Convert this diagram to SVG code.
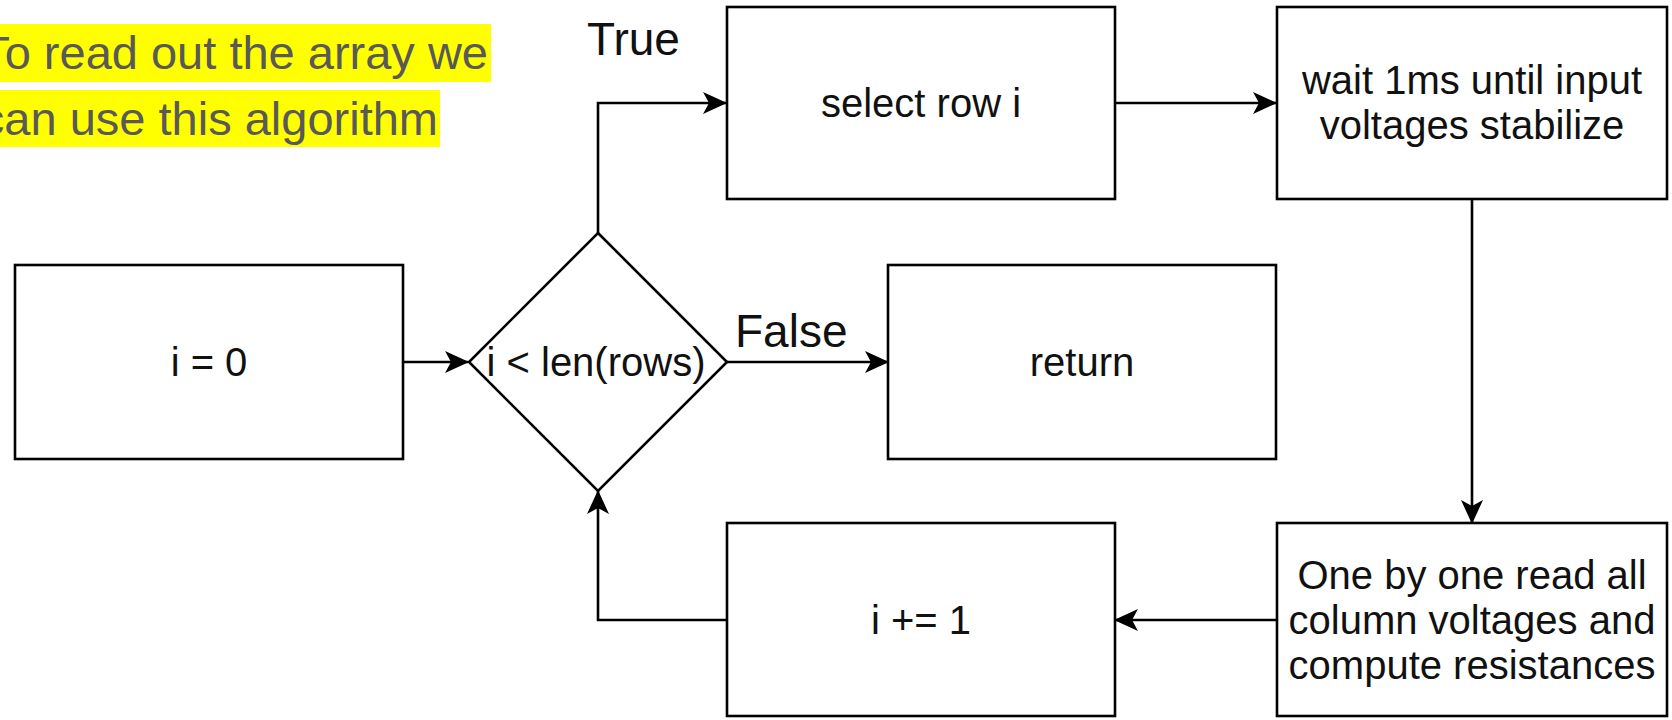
<svg xmlns="http://www.w3.org/2000/svg" width="1672" height="720" viewBox="0 0 1672 720">
<style>
.box{fill:#ffffff;stroke:#000000;stroke-width:2.6}
.conn{fill:none;stroke:#000000;stroke-width:2.6}
.t{font-family:"Liberation Sans",Arial,Helvetica,sans-serif;font-size:40px;fill:#111111;text-anchor:middle}
.lbl{font-family:"Liberation Sans",Arial,Helvetica,sans-serif;font-size:46px;fill:#111111}
.note{font-family:"Liberation Sans",Arial,Helvetica,sans-serif;font-size:47px;fill:#595959;text-anchor:end}
</style>
<defs>
<marker id="arr" viewBox="0 0 24 22" refX="23" refY="11" markerWidth="24" markerHeight="22" markerUnits="userSpaceOnUse" orient="auto">
<path d="M0,0 L24,11 L0,22 L6,11 Z" fill="#000000"/>
</marker>
</defs>
<rect width="1672" height="720" fill="#ffffff"/>
<g id="note">
<rect x="0" y="24" width="491" height="58" fill="#ffff00"/>
<rect x="0" y="90" width="440" height="57" fill="#ffff00"/>
<text class="note" x="488" y="69">To read out the array we</text>
<text class="note" x="438" y="135">can use this algorithm</text>
</g>
<g id="connectors">
<path class="conn" d="M403,362 H468" marker-end="url(#arr)"/>
<path class="conn" d="M598,233 V103 H726" marker-end="url(#arr)"/>
<path class="conn" d="M1115,103 H1276" marker-end="url(#arr)"/>
<path class="conn" d="M1472,199 V523" marker-end="url(#arr)"/>
<path class="conn" d="M1276,620 H1115" marker-end="url(#arr)"/>
<path class="conn" d="M726,620 H598 V491" marker-end="url(#arr)"/>
<path class="conn" d="M726,362 H888" marker-end="url(#arr)"/>
<text class="lbl" x="587" y="55">True</text>
<text class="lbl" x="735" y="347">False</text>
</g>
<g id="n_init">
<rect class="box" x="15" y="265" width="388" height="194"/>
<text class="t" x="209" y="376">i = 0</text>
</g>
<g id="n_cond">
<polygon class="box" points="598,233 727,362 598,491 469,362"/>
<text class="t" x="596" y="376">i &lt; len(rows)</text>
</g>
<g id="n_select">
<rect class="box" x="727" y="7" width="388" height="192"/>
<text class="t" x="921" y="117">select row i</text>
</g>
<g id="n_wait">
<rect class="box" x="1277" y="7" width="390" height="192"/>
<text class="t" x="1472" y="94">wait 1ms until input</text>
<text class="t" x="1472" y="139">voltages stabilize</text>
</g>
<g id="n_return">
<rect class="box" x="888" y="265" width="388" height="194"/>
<text class="t" x="1082" y="376">return</text>
</g>
<g id="n_inc">
<rect class="box" x="727" y="523" width="388" height="193"/>
<text class="t" x="921" y="634">i += 1</text>
</g>
<g id="n_read">
<rect class="box" x="1277" y="523" width="390" height="193"/>
<text class="t" x="1472" y="589">One by one read all</text>
<text class="t" x="1472" y="634">column voltages and</text>
<text class="t" x="1472" y="679">compute resistances</text>
</g>
</svg>
